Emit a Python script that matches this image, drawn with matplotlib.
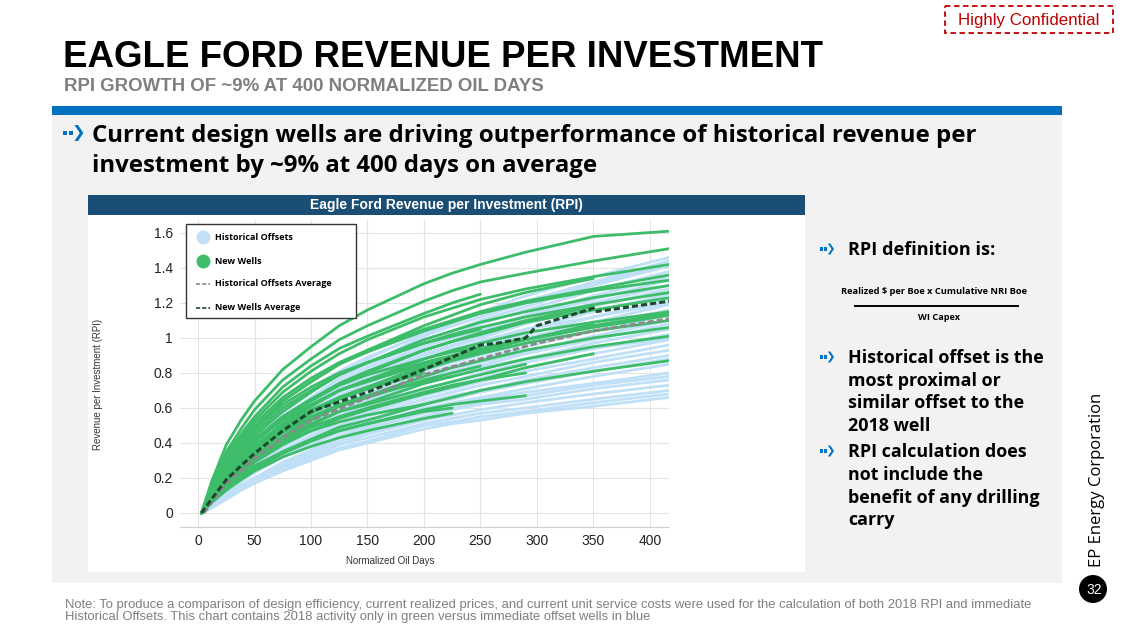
import matplotlib
matplotlib.use("Agg")
import matplotlib.pyplot as plt
from matplotlib.patches import Rectangle, Circle, Polygon
import numpy as np

# ---- data ----
DAYS = [3, 12, 25, 38, 50, 75, 100, 125, 150, 200, 225, 250, 290, 350, 417]

NEW_WELLS = [
    [0, .18, .39, .53, .64, .82, .95, 1.07, 1.16, 1.31, 1.37, 1.42, 1.49, 1.58, 1.61],
    [0, .16, .35, .48, .59, .76, .88, .99, 1.07, 1.21, 1.27, 1.32, 1.37, 1.44, 1.51],
    [0, .14, .31, .43, .53, .69, .81, .91, .99, 1.12, 1.17, 1.22, 1.28, 1.35, 1.42],
    [0, .13, .28, .40, .49, .64, .75, .85, .92, 1.04, 1.09, 1.14, 1.20, 1.27, 1.33],
    [0, .12, .25, .36, .44, .58, .69, .79, .86, .99, 1.04, 1.09, 1.15, 1.23, 1.30],
    [0, .12, .27, .38, .46, .60, .70, .79, .86, .97, 1.02, 1.06, 1.12, 1.19, 1.26],
    [0, .10, .22, .32, .40, .54, .64, .73, .80, .93, .98, 1.02, 1.09, 1.16, 1.23],
    [0, .10, .21, .31, .38, .51, .61, .70, .76, .88, .93, .97, 1.03, 1.09, 1.15],
    [0, .09, .19, .28, .35, .47, .57, .66, .72, .84, .89, .93, .99, 1.06, 1.13],
    [0, .09, .20, .29, .36, .48, .57, .65, .71, .82, .87, .91, .97, 1.04, 1.10],
    [0, .08, .18, .26, .33, .44, .53, .61, .67, .78, .83, .87, .93, 1.00, 1.06],
    [0, .08, .17, .25, .31, .42, .50, .58, .63, .74, .78, .82, .88, .95, 1.01],
    [0, .06, .14, .21, .26, .35, .42, .49, .53, .62, .66, .70, .75, .81, .87],
    [0, .12, .27, .39, .48, .64, .75, .85, .93, 1.07, 1.13, 1.19, 1.26, 1.34, None],
    [0, .11, .24, .34, .42, .55, .65, .74, .81, .93, .98, 1.03, 1.10, 1.18, None],
    [0, .07, .16, .23, .29, .39, .47, .54, .59, .68, .72, .76, .83, .91, None],
    [0, .15, .33, .45, .55, .72, .84, .94, 1.01, 1.14, 1.20, 1.25, None, None, None],
    [0, .13, .28, .39, .48, .62, .72, .80, .86, .97, 1.01, 1.05, None, None, None],
    [0, .08, .17, .25, .31, .41, .49, .55, .60, .69, .73, .76, .80, None, None],
    [0, .06, .14, .20, .25, .34, .41, .47, .51, .59, .62, .64, .67, None, None],
    [0, .06, .13, .19, .24, .32, .38, .43, .47, .54, .57, None, None, None, None],
    [0, .07, .15, .22, .27, .35, .42, .47, .51, .58, .60, None, None, None, None],
    [0, .08, .17, .24, .30, .40, .47, .52, .56, .62, None, None, None, None, None],
    [0, .11, .24, .34, .42, .55, .65, .73, .79, .88, .92, .95, None, None, None],
    [0, .10, .21, .31, .38, .50, .59, .66, .71, .80, None, None, None, None, None],
    [0, .10, .21, .31, .38, .51, .61, .70, .76, .86, .90, .94, 1.00, None, None],
    [0, .09, .20, .29, .36, .47, .55, .62, .67, .75, .78, None, None, None, None],
    [0, .10, .21, .30, .37, .49, .58, .66, .72, .83, .88, .92, .99, 1.08, None],
    [0, .11, .23, .33, .41, .53, .62, .70, .75, .85, .89, .93, .99, 1.07, 1.14],
    [0, .08, .18, .26, .32, .43, .51, .58, .62, .71, .75, .79, .85, None, None],
    [0, .09, .20, .28, .35, .46, .54, .61, .66, .76, .80, .84, None, None, None],
    [0, .14, .30, .42, .51, .66, .77, .86, .93, 1.05, 1.10, 1.15, 1.21, 1.28, 1.36],
]

HIST_WELLS = [
    [0, .08, .20, .32, .41, .57, .69, .80, .88, 1.03, 1.09, 1.15, 1.24, 1.35, 1.46],
    [0, .08, .19, .30, .39, .55, .66, .77, .85, 1.01, 1.07, 1.12, 1.21, 1.32, 1.44],
    [0, .09, .22, .34, .44, .60, .71, .81, .89, 1.02, 1.07, 1.12, 1.20, 1.31, 1.42],
    [0, .07, .18, .29, .38, .54, .65, .75, .83, .99, 1.04, 1.10, 1.18, 1.30, 1.41],
    [0, .07, .18, .29, .37, .52, .63, .73, .81, .97, 1.02, 1.08, 1.16, 1.27, 1.38],
    [0, .07, .18, .28, .36, .51, .62, .72, .80, .95, 1.00, 1.05, 1.13, 1.24, 1.35],
    [0, .07, .17, .28, .36, .51, .61, .71, .78, .93, .98, 1.04, 1.12, 1.22, 1.33],
    [0, .07, .17, .27, .35, .49, .60, .70, .77, .91, .96, 1.01, 1.09, 1.20, 1.30],
    [0, .07, .17, .27, .35, .49, .59, .69, .76, .90, .95, 1.00, 1.08, 1.18, 1.28],
    [0, .06, .16, .26, .34, .48, .58, .67, .74, .88, .93, .98, 1.05, 1.15, 1.25],
    [0, .06, .16, .26, .33, .46, .56, .65, .72, .85, .90, .95, 1.02, 1.12, 1.22],
    [0, .07, .18, .28, .36, .50, .60, .69, .76, .88, .93, .98, 1.05, 1.12, 1.20],
    [0, .06, .15, .25, .32, .45, .55, .64, .70, .83, .88, .93, 1.00, 1.09, 1.19],
    [0, .06, .15, .24, .31, .44, .53, .62, .68, .81, .86, .90, .97, 1.07, 1.16],
    [0, .06, .15, .24, .31, .43, .52, .61, .67, .79, .84, .88, .95, 1.04, 1.13],
    [0, .06, .14, .23, .30, .42, .51, .59, .65, .77, .81, .86, .92, 1.01, 1.10],
    [0, .06, .14, .22, .29, .41, .50, .58, .64, .76, .80, .84, .91, .99, 1.08],
    [0, .06, .14, .22, .28, .40, .48, .56, .62, .74, .78, .82, .88, .97, 1.05],
    [0, .05, .13, .21, .28, .39, .47, .55, .60, .71, .75, .80, .86, .94, 1.02],
    [0, .06, .15, .24, .31, .43, .52, .60, .65, .75, .79, .83, .88, .94, 1.00],
    [0, .05, .13, .21, .27, .38, .46, .53, .58, .69, .73, .77, .83, .91, .99],
    [0, .05, .12, .20, .26, .36, .44, .52, .57, .67, .71, .75, .81, .88, .96],
    [0, .05, .12, .19, .25, .35, .43, .50, .55, .65, .69, .73, .78, .86, .93],
    [0, .05, .12, .19, .24, .34, .41, .48, .53, .63, .67, .70, .76, .83, .90],
    [0, .04, .11, .18, .24, .33, .40, .47, .52, .62, .65, .69, .74, .81, .88],
    [0, .04, .11, .18, .23, .32, .39, .46, .50, .60, .63, .66, .71, .78, .85],
    [0, .04, .10, .16, .20, .29, .36, .44, .49, .58, .62, .65, .69, .74, .80],
    [0, .04, .09, .15, .20, .28, .35, .43, .48, .57, .60, .63, .67, .73, .78],
    [0, .04, .09, .15, .19, .27, .34, .41, .46, .55, .59, .62, .65, .71, .76],
    [0, .04, .09, .14, .18, .26, .33, .40, .45, .53, .56, .59, .63, .68, .73],
    [0, .03, .08, .14, .18, .25, .32, .39, .43, .51, .54, .57, .60, .65, .70],
    [0, .03, .08, .13, .17, .25, .31, .37, .41, .50, .52, .55, .58, .63, .68],
    [0, .03, .08, .13, .17, .24, .30, .36, .40, .48, .51, .53, .57, .61, .66],
]

NEW_AVG_DAYS = [3, 12, 25, 38, 50, 75, 100, 150, 200, 250, 265, 290, 300, 350, 352, 417]
NEW_AVG = [0, 0.08, 0.19, 0.27, 0.34, 0.47, 0.58, 0.69, 0.82, 0.96, 0.97, 1.00, 1.07, 1.17, 1.15, 1.21]
HIST_AVG_DAYS = [5, 12, 25, 38, 50, 75, 100, 150, 200, 250, 300, 350, 417]
HIST_AVG = [0, 0.06, 0.17, 0.24, 0.31, 0.43, 0.53, 0.66, 0.79, 0.88, 0.97, 1.04, 1.11]

X_TICKS = [0, 50, 100, 150, 200, 250, 300, 350, 400]
Y_TICKS = [0, 0.2, 0.4, 0.6, 0.8, 1.0, 1.2, 1.4, 1.6]
Y_TICK_LABELS = ["0", "0.2", "0.4", "0.6", "0.8", "1", "1.2", "1.4", "1.6"]

LEGEND_LABELS = ["Historical Offsets", "New Wells", "Historical Offsets Average", "New Wells Average"]

HEADLINE = ["Current design wells are driving outperformance of historical revenue per",
            "investment by ~9% at 400 days on average"]
BULLET_2 = ["Historical offset is the", "most proximal or", "similar offset to the", "2018 well"]
BULLET_3 = ["RPI calculation does", "not include the", "benefit of any drilling", "carry"]
NOTE = ["Note: To produce a comparison of design efficiency, current realized prices, and current unit "
        "service costs were used for the calculation of both 2018 RPI and immediate",
        "Historical Offsets. This chart contains 2018 activity only in green versus immediate offset wells in blue"]

BLUE = "#bfe0f6"
GREEN = "#3dbd6a"
NAVY = "#1b4e74"
BAR_BLUE = "#0070c0"

SANS = ["Open Sans", "DejaVu Sans"]
NARROW = ["Liberation Sans Narrow", "Liberation Sans", "DejaVu Sans"]
ARIAL = ["Liberation Sans", "DejaVu Sans"]

W, H = 1128, 635
fig = plt.figure(figsize=(W / 100, H / 100), dpi=100)
renderer = fig.canvas.get_renderer()

bg = fig.add_axes([0, 0, 1, 1], zorder=0)
bg.set_xlim(0, W)
bg.set_ylim(H, 0)
bg.axis("off")


def fit_text(ax, x, y, s, width, vertical=False, **kw):
    t = ax.text(x, y, s, **kw)
    ext = t.get_window_extent(renderer)
    cur = ext.height if vertical else ext.width
    t.set_fontsize(t.get_fontsize() * width / cur)
    return t


def arrow(ax, x, y, h, color=BAR_BLUE):
    sq = 0.28 * h
    for i in range(2):
        ax.add_patch(Rectangle((x + i * 0.36 * h, y - sq / 2), sq, sq, color=color, lw=0))
    hx = x + 0.72 * h
    ax.add_patch(Polygon([(hx, y - 0.5 * h), (hx + 0.22 * h, y - 0.5 * h), (hx + 0.55 * h, y),
                          (hx + 0.22 * h, y + 0.5 * h), (hx, y + 0.5 * h), (hx + 0.33 * h, y)],
                         closed=True, color=color, lw=0))


# slide furniture
bg.add_patch(Rectangle((945, 6), 168, 27, fill=False, ec="#c00000", ls=(0, (3, 2)), lw=1.3))
fit_text(bg, 1029, 20, "Highly Confidential", 141, ha="center", va="center",
         color="#c00000", family=NARROW, fontsize=12)

fit_text(bg, 63, 67, "EAGLE FORD REVENUE PER INVESTMENT", 757, ha="left", va="baseline",
         color="black", family=NARROW, weight="bold", fontsize=30)
fit_text(bg, 64, 91, "RPI GROWTH OF ~9% AT 400 NORMALIZED OIL DAYS", 482, ha="left", va="baseline",
         color="#7f7f7f", family=NARROW, weight="bold", fontsize=15)

bg.add_patch(Rectangle((52, 106), 1010, 9, color=BAR_BLUE, lw=0))
bg.add_patch(Rectangle((52, 115), 1010, 468, color="#f2f2f2", lw=0))

arrow(bg, 63, 133, 16)
t = fit_text(bg, 92, 142, HEADLINE[0], 886, ha="left", va="baseline",
             color="black", family=SANS, weight="bold", fontsize=16)
bg.text(92, 172, HEADLINE[1], ha="left", va="baseline", color="black", family=SANS,
        weight="bold", fontsize=t.get_fontsize())

# chart panel
bg.add_patch(Rectangle((88, 195), 717, 20, color=NAVY, lw=0))
bg.add_patch(Rectangle((88, 215), 717, 357, color="white", lw=0))
fit_text(bg, 446, 205, "Eagle Ford Revenue per Investment (RPI)", 272, ha="center", va="center",
         color="white", family=ARIAL, weight="bold", fontsize=10)

ax = fig.add_axes([180 / W, 1 - 527 / H, 489 / W, 307 / H], zorder=2)
ax.set_facecolor("none")
days = np.array(DAYS, dtype=float)
for row in HIST_WELLS:
    ax.plot(days, np.array(row, dtype=float), color=BLUE, lw=2.0, solid_capstyle="round",
            solid_joinstyle="round", zorder=2)
for row in NEW_WELLS:
    ax.plot(days, np.array(row, dtype=float), color=GREEN, lw=2.0, solid_capstyle="round",
            solid_joinstyle="round", zorder=3)
ax.plot(HIST_AVG_DAYS, HIST_AVG, color="#8a8a8a", lw=2.2, dashes=(2, 1), zorder=4)
ax.plot(NEW_AVG_DAYS, NEW_AVG, color="#1d4a2c", lw=2.2, dashes=(2, 1), zorder=5)

ax.set_xlim(-16, 417)
ax.set_ylim(-0.08, 1.674)
ax.set_xticks(X_TICKS)
ax.set_yticks(Y_TICKS)
ax.set_yticklabels(Y_TICK_LABELS)
ax.grid(color="#e4e4e4", lw=0.8, zorder=0)
ax.set_axisbelow(True)
for side in ["top", "right", "left"]:
    ax.spines[side].set_visible(False)
ax.spines["bottom"].set_color("#d0d0d0")
ax.tick_params(length=0, labelsize=10, colors="#222222", pad=5)
for lab in ax.get_xticklabels() + ax.get_yticklabels():
    lab.set_family(ARIAL)
ax.set_xlabel("Normalized Oil Days", family=ARIAL, fontsize=7, color="#333333")
ax.set_ylabel("Revenue per Investment (RPI)", family=ARIAL, fontsize=7, color="#333333")
ax.xaxis.label.set_va("center")
ax.xaxis.set_label_coords((390 - 180) / 489, (527 - 561) / 307)
ax.yaxis.label.set_va("center")
ax.yaxis.set_label_coords((98 - 180) / 489, (527 - 384) / 307)

# legend drawn on an overlay so its box sits exactly where the reference has it
fg = fig.add_axes([0, 0, 1, 1], zorder=4)
fg.set_xlim(0, W)
fg.set_ylim(H, 0)
fg.axis("off")
fg.add_patch(Rectangle((186, 224), 170, 94, fc="white", ec="#333333", lw=1))
rows_y = [237, 261, 284, 308]
fg.plot([203], [rows_y[0]], "o", ms=10, color=BLUE, mec="none")
fg.plot([203], [rows_y[1]], "o", ms=10, color=GREEN, mec="none")
fg.plot([196, 210], [rows_y[2], rows_y[2]], color="#8a8a8a", lw=1.2, dashes=(2.5, 1.2))
fg.plot([196, 210], [rows_y[3], rows_y[3]], color="#1d4a2c", lw=1.2, dashes=(2.5, 1.2))
lt = fit_text(fg, 215, rows_y[2], LEGEND_LABELS[2], 117, ha="left", va="center",
              color="black", family=SANS, weight="bold", fontsize=6)
for lab, yy in zip([LEGEND_LABELS[0], LEGEND_LABELS[1], LEGEND_LABELS[3]], [rows_y[0], rows_y[1], rows_y[3]]):
    fg.text(215, yy, lab, ha="left", va="center", color="black", family=SANS,
            weight="bold", fontsize=lt.get_fontsize())

# right-hand commentary
arrow(bg, 820, 249, 11)
fit_text(bg, 848, 255, "RPI definition is:", 147, ha="left", va="baseline",
         color="black", family=SANS, weight="bold", fontsize=12)
fit_text(bg, 934, 292, "Realized $ per Boe x Cumulative NRI Boe", 186, ha="center", va="center",
         color="black", family=SANS, weight="bold", fontsize=6)
bg.plot([855, 1018], [306, 306], color="black", lw=1.4)
fit_text(bg, 939, 317, "WI Capex", 42, ha="center", va="center",
         color="black", family=SANS, weight="bold", fontsize=6)

arrow(bg, 820, 357, 11)
bt = fit_text(bg, 848, 363, BULLET_2[0], 197, ha="left", va="baseline",
              color="black", family=SANS, weight="bold", fontsize=12)
fs = bt.get_fontsize()
for line, yy in zip(BULLET_2[1:], [386, 408, 431]):
    bg.text(848, yy, line, ha="left", va="baseline", color="black", family=SANS, weight="bold", fontsize=fs)
arrow(bg, 820, 451, 11)
for line, yy in zip(BULLET_3, [457, 480, 503, 525]):
    bg.text(848, yy, line, ha="left", va="baseline", color="black", family=SANS, weight="bold", fontsize=fs)

fit_text(bg, 1097, 480, "EP Energy Corporation", 175, vertical=True, ha="center", va="center",
         rotation=90, color="black", family=SANS, fontsize=11)

bg.add_patch(Circle((1093, 589), 14, color="black", lw=0))
bg.text(1094, 590, "32", ha="center", va="center", color="white", family=NARROW, fontsize=10)

nt = fit_text(bg, 65, 608, NOTE[0], 968, ha="left", va="baseline",
              color="#7f7f7f", family=NARROW, fontsize=9)
bg.text(65, 620, NOTE[1], ha="left", va="baseline", color="#7f7f7f", family=NARROW,
        fontsize=nt.get_fontsize())

fig.savefig("out.png", dpi=100, facecolor="white")
